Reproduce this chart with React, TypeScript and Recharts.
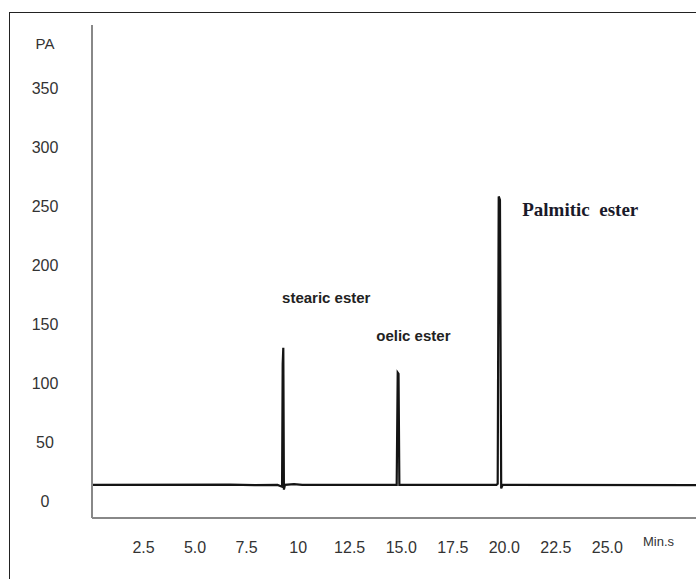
import { LineChart, Line, XAxis, YAxis, ReferenceDot } from "recharts";

const times = [0, 6.7, 7.9, 9.0, 9.22, 9.25, 9.28, 9.31, 9.36, 9.8, 10.2, 14.78, 14.83, 14.87, 14.91, 19.62, 19.68, 19.73, 19.79, 19.85, 19.92, 29.3];
const signal = [14, 14.3, 13.8, 14, 12.5, 116, 130, 10, 14, 14.6, 14, 14, 109, 108, 14, 14, 15, 258, 255, 11, 14, 13.8];

const xTicks = [2.5, 5, 7.5, 10, 12.5, 15, 17.5, 20, 22.5, 25];
const xTickLabels = ["2.5", "5.0", "7.5", "10", "12.5", "15.0", "17.5", "20.0", "22.5", "25.0"];
const yTicks = [0, 50, 100, 150, 200, 250, 300, 350];

const peakNames = ["stearic ester", "oelic ester", "Palmitic  ester"];
const peakLabelX = [9.22, 13.79, 20.87];
const peakLabelY = [173, 141, 246.6];

const data = times.map((t, i) => ({ t, pa: signal[i] }));

const sansFont = "'Liberation Sans', Arial, sans-serif";

function YTick(props: any) {
  const { y, payload } = props;
  return (
    <text x={45} y={y + 6} textAnchor="middle" fontSize={16} fill="#333" fontFamily={sansFont}>
      {payload.value}
    </text>
  );
}

function XTick(props: any) {
  const { x, payload } = props;
  const idx = xTicks.indexOf(payload.value);
  return (
    <text x={x} y={553} textAnchor="middle" fontSize={16} fill="#333" fontFamily={sansFont}>
      {idx >= 0 ? xTickLabels[idx] : payload.value}
    </text>
  );
}

function makeLabel(text: string, i: number) {
  const serif = i === 2;
  return (p: any) => {
    const vb = p.viewBox || {};
    return (
      <text
        x={vb.x}
        y={vb.y + 6}
        fontSize={serif ? 19 : 15}
        fontWeight="bold"
        fill={serif ? "#1a1a2a" : "#222"}
        fontFamily={serif ? "'Liberation Serif', 'Times New Roman', serif" : sansFont}
        style={{ whiteSpace: "pre" }}
      >
        {text}
      </text>
    );
  };
}

export default function App() {
  return (
    <div style={{ position: "fixed", left: 0, top: 0, width: 696, height: 579, background: "#fff", overflow: "hidden" }}>
      <div
        style={{
          position: "absolute",
          left: 9,
          top: 12,
          right: 0,
          bottom: 0,
          borderLeft: "1.5px solid #222",
          borderTop: "1.5px solid #222",
        }}
      />
      <div style={{ position: "absolute", left: 0, top: 0 }}>
        <LineChart width={696} height={579} data={data} margin={{ top: 25, right: 0, bottom: 0, left: 0 }}>
          <XAxis
            dataKey="t"
            type="number"
            domain={[0, 29.3]}
            ticks={xTicks}
            tickLine={false}
            axisLine={{ stroke: "#888", strokeWidth: 2 }}
            tick={<XTick />}
            height={61}
            allowDataOverflow
          />
          <YAxis
            type="number"
            domain={[-14, 403]}
            ticks={yTicks}
            tickLine={false}
            axisLine={{ stroke: "#888", strokeWidth: 2 }}
            tick={<YTick />}
            width={92}
            allowDataOverflow
            label={{
              content: () => (
                <text x={45} y={49} textAnchor="middle" fontSize={15} fill="#333" fontFamily={sansFont}>
                  PA
                </text>
              ),
            }}
          />
          <Line
            type="linear"
            dataKey="pa"
            stroke="#141414"
            strokeWidth={2.2}
            dot={false}
            isAnimationActive={false}
          />
          {peakNames.map((name, i) => (
            <ReferenceDot
              key={name}
              x={peakLabelX[i]}
              y={peakLabelY[i]}
              r={0}
              fill="none"
              stroke="none"
              label={{ content: makeLabel(name, i) }}
            />
          ))}
        </LineChart>
      </div>
      <div
        style={{
          position: "absolute",
          left: 643,
          top: 534,
          fontSize: 13,
          color: "#333",
          fontFamily: sansFont,
        }}
      >
        Min.s
      </div>
    </div>
  );
}
